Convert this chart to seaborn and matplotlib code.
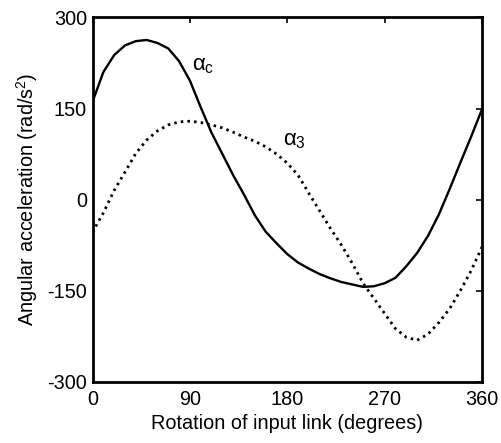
import matplotlib
matplotlib.use("Agg")
import matplotlib.pyplot as plt
import seaborn as sns
import pandas as pd

# Data
angle = [0, 10, 20, 30, 40, 50, 60, 70, 80, 90, 100, 110, 120, 130, 140, 150, 160, 170, 180,
         190, 200, 210, 220, 230, 240, 250, 260, 270, 280, 290, 300, 310, 320, 330, 340, 350, 360]
alpha_c = [161, 210, 238, 254, 261, 263, 258, 249, 228, 196, 152, 110, 75, 40, 8, -26, -53, -72, -90,
           -104, -114, -123, -130, -136, -140, -144, -143, -138, -129, -110, -88, -60, -25, 17, 61, 104, 149]
alpha_3 = [-54, -22, 15, 45, 76, 98, 113, 123, 128, 129, 127, 123, 118, 111, 103, 96, 87, 75, 60,
           40, 10, -19, -48, -75, -105, -138, -163, -188, -213, -227, -232, -222, -203, -180, -150, -117, -78]
xticks = [0, 90, 180, 270, 360]
yticks = [-300, -150, 0, 150, 300]

sns.set_theme(style="white")
plt.rcParams['font.family'] = ['Liberation Sans', 'DejaVu Sans']
plt.rcParams['mathtext.fontset'] = 'custom'
plt.rcParams['mathtext.rm'] = 'Liberation Sans'
plt.rcParams['mathtext.it'] = 'Liberation Sans'
plt.rcParams['mathtext.bf'] = 'Liberation Sans:bold'
plt.rcParams['text.color'] = 'black'
plt.rcParams['axes.labelcolor'] = 'black'

df = pd.DataFrame({"angle": angle, "alpha_c": alpha_c, "alpha_3": alpha_3})

fig = plt.figure(figsize=(5.02, 4.43), dpi=100)
ax = fig.add_axes([0.1843, 0.1388, 0.776, 0.8217])

sns.lineplot(data=df, x="angle", y="alpha_c", ax=ax, color="black", linewidth=1.7)
sns.lineplot(data=df, x="angle", y="alpha_3", ax=ax, color="black", linewidth=2.0,
             linestyle=(0, (0.9, 1.5)))

ax.set_xlim(0, 360)
ax.set_ylim(-300, 300)
ax.set_xticks(xticks)
ax.set_yticks(yticks)
ax.set_xticklabels([str(t) for t in xticks])
ax.set_yticklabels([str(t) for t in yticks])
ax.tick_params(direction="in", length=4, width=1.2, top=True, right=True,
               labelsize=14.3, colors="black")
ax.tick_params(axis="x", pad=6)
ax.tick_params(axis="y", pad=4)
for s in ax.spines.values():
    s.set_linewidth(2.0)
    s.set_color("black")

ax.set_xlabel("Rotation of input link (degrees)", fontsize=14.3, labelpad=4, color="black")
ax.set_ylabel("Angular acceleration (rad/s$^2$)", fontsize=14.3, labelpad=5, color="black")

ax.text(91.5, 213, r"$\alpha_{c}$", fontsize=16, ha="left", va="baseline", color="black")
ax.text(176, 90, r"$\alpha_{3}$", fontsize=16, ha="left", va="baseline", color="black")

fig.savefig("out.png", dpi=100)
